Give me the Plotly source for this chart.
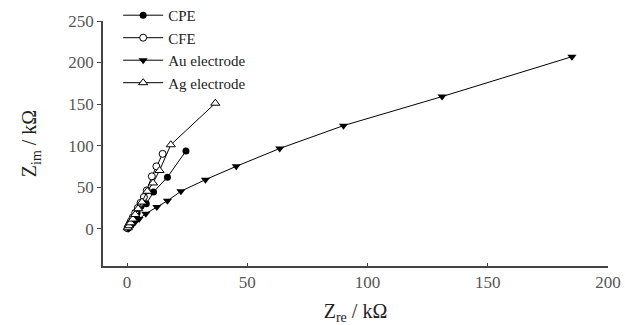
import plotly.graph_objects as go

# Data (kΩ)
cpe_x = [0.3, 0.7, 1.3, 2.0, 3.0, 4.2, 5.8, 8.0, 11.0, 16.8, 24.5]
cpe_y = [0.5, 2.0, 4.5, 8.0, 13.0, 19.0, 27.0, 30.0, 44.0, 62.0, 93.5]

cfe_x = [0.2, 0.5, 1.0, 1.6, 2.4, 3.4, 4.5, 5.6, 7.0, 8.2, 10.3, 12.2, 14.8]
cfe_y = [0.5, 2.5, 5.5, 9.0, 13.5, 19.0, 25.0, 31.0, 38.0, 46.0, 63.0, 75.0, 90.0]

au_x = [0.5, 1.2, 2.0, 3.2, 5.0, 7.8, 12.4, 16.8, 22.4, 32.6, 45.4, 63.5, 90.0, 131.0, 185.0]
au_y = [0.0, 1.5, 4.0, 7.5, 11.5, 18.0, 26.0, 33.5, 45.0, 59.0, 75.0, 96.5, 124.0, 159.0, 207.0]

ag_x = [0.3, 0.8, 1.5, 2.4, 3.4, 4.6, 6.2, 8.4, 10.8, 13.5, 18.2, 36.7]
ag_y = [1.0, 3.5, 7.0, 11.5, 17.0, 24.0, 32.0, 45.0, 55.0, 70.0, 101.0, 151.0]

x_ticks = [0, 50, 100, 150, 200]
y_ticks = [0, 50, 100, 150, 200, 250]

SERIF = "Liberation Serif"

fig = go.Figure()
line = dict(color="black", width=1)
fig.add_trace(go.Scatter(x=cpe_x, y=cpe_y, mode="lines+markers", name="CPE", line=line,
                         marker=dict(symbol="circle", size=7, color="black")))
fig.add_trace(go.Scatter(x=cfe_x, y=cfe_y, mode="lines+markers", name="CFE", line=line,
                         marker=dict(symbol="circle", size=7, color="white",
                                     line=dict(color="black", width=1))))
fig.add_trace(go.Scatter(x=au_x, y=au_y, mode="lines+markers", name="Au electrode", line=line,
                         marker=dict(symbol="triangle-down", size=8, color="black")))
fig.add_trace(go.Scatter(x=ag_x, y=ag_y, mode="lines+markers", name="Ag electrode", line=line,
                         marker=dict(symbol="triangle-up", size=8, color="white",
                                     line=dict(color="black", width=1))))

fig.update_layout(
    width=625, height=325,
    margin=dict(l=103, r=17, t=21, b=59, autoexpand=False),
    paper_bgcolor="white", plot_bgcolor="white",
    font=dict(family=SERIF, size=17, color="#555555"),
    showlegend=True,
    legend=dict(x=0.03, y=1.09, xanchor="left", yanchor="top",
                bgcolor="rgba(0,0,0,0)", font=dict(family=SERIF, size=15, color="#222222"),
                tracegroupgap=0, itemwidth=40),
    xaxis=dict(range=[-10, 200], tickvals=x_ticks, ticks="inside", ticklen=3,
               tickcolor="#444", showline=True, linecolor="#444", linewidth=1.5,
               showgrid=False, zeroline=False, automargin=False,
               tickfont=dict(family=SERIF, size=17, color="#555555"),
               title=dict(text="Z<sub>re</sub> / kΩ", font=dict(family=SERIF, size=20, color="#222222"),
                          standoff=14)),
    yaxis=dict(range=[-45, 250], tickvals=y_ticks, ticks="outside", ticklen=4,
               tickcolor="#444", showline=True, linecolor="#444", linewidth=1.5,
               showgrid=False, zeroline=False, automargin=False,
               tickfont=dict(family=SERIF, size=17, color="#555555"),
               title=dict(text="Z<sub>im</sub> / kΩ", font=dict(family=SERIF, size=20, color="#222222"),
                          standoff=26)),
)

fig.write_html("out.html")
